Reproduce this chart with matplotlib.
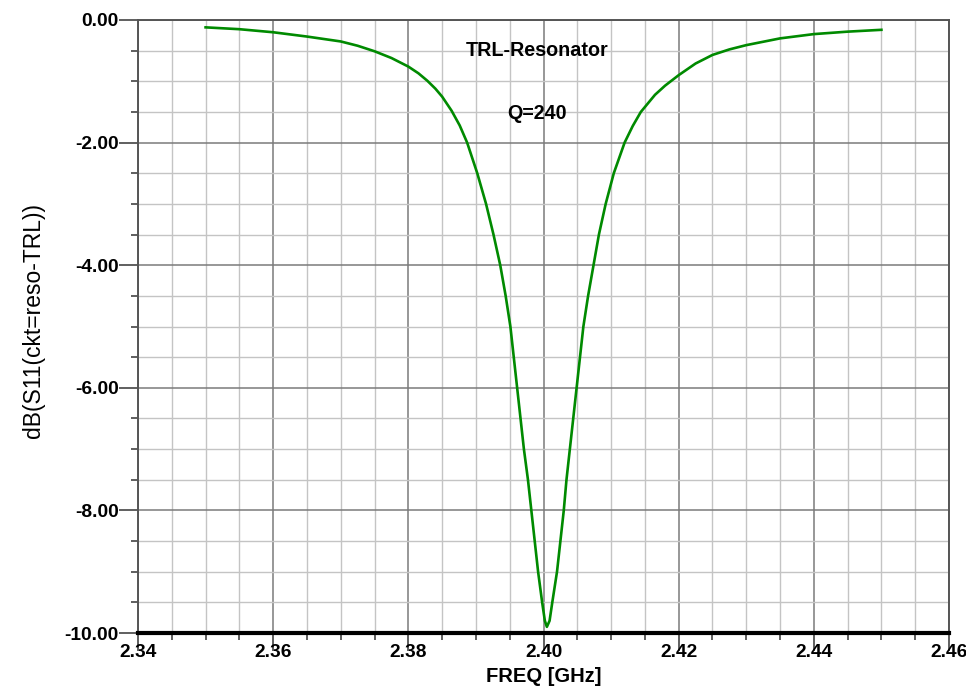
import matplotlib.pyplot as plt
import numpy as np
from matplotlib.ticker import MultipleLocator, FormatStrFormatter

plt.rcParams['font.family'] = ['Liberation Sans', 'DejaVu Sans']

# S11 of the TRL resonator
freq_ghz = [2.3500, 2.3550, 2.3600, 2.3650, 2.3700, 2.3725, 2.3750, 2.3775, 2.3800,
            2.3815, 2.3828, 2.3840, 2.3850, 2.3864, 2.3876, 2.3887, 2.3902, 2.3915,
            2.3926, 2.3936, 2.3944, 2.3951, 2.3956, 2.3961, 2.3966, 2.3971, 2.3977,
            2.3982, 2.3987, 2.3992, 2.3998, 2.4002, 2.4005, 2.4009, 2.4013, 2.4020,
            2.4025, 2.4030, 2.4034, 2.4039, 2.4044, 2.4049, 2.4054, 2.4059, 2.4066,
            2.4074, 2.4082, 2.4092, 2.4104, 2.4120, 2.4132, 2.4144, 2.4165, 2.4180,
            2.4200, 2.4225, 2.4250, 2.4275, 2.4300, 2.4350, 2.4400, 2.4450, 2.4500]
s11_db = [-0.12, -0.15, -0.20, -0.27, -0.35, -0.42, -0.51, -0.62, -0.76,
          -0.87, -0.99, -1.12, -1.25, -1.48, -1.72, -2.00, -2.50, -3.00,
          -3.50, -4.00, -4.50, -5.00, -5.50, -6.00, -6.50, -7.00, -7.50,
          -8.00, -8.50, -9.00, -9.50, -9.80, -9.90, -9.80, -9.50, -9.00,
          -8.50, -8.00, -7.50, -7.00, -6.50, -6.00, -5.50, -5.00, -4.50,
          -4.00, -3.50, -3.00, -2.50, -2.00, -1.73, -1.50, -1.22, -1.07,
          -0.90, -0.71, -0.57, -0.48, -0.41, -0.30, -0.23, -0.19, -0.16]

fig = plt.figure(figsize=(9.66, 6.9), dpi=100)
ax = fig.add_axes([138/966, 1-633/690, (949-138)/966, (633-20)/690])

# grid first, then curve
ax.xaxis.set_major_locator(MultipleLocator(0.02))
ax.xaxis.set_minor_locator(MultipleLocator(0.005))
ax.yaxis.set_major_locator(MultipleLocator(2))
ax.yaxis.set_minor_locator(MultipleLocator(0.5))
ax.grid(which='major', color='#7a7a7a', linewidth=1.1)
ax.grid(which='minor', color='#c4c4c4', linewidth=1.0)
ax.set_axisbelow(True)

ax.plot(freq_ghz, s11_db, color='#008a00', linewidth=1.9, solid_joinstyle='round')

ax.set_xlim(2.34, 2.46)
ax.set_ylim(-10, 0)
ax.xaxis.set_major_formatter(FormatStrFormatter('%.2f'))
ax.yaxis.set_major_formatter(FormatStrFormatter('%.2f'))

for s in ['top', 'right', 'left']:
    ax.spines[s].set_color('#555555')
    ax.spines[s].set_linewidth(1.4)
ax.spines['bottom'].set_color('black')
ax.spines['bottom'].set_linewidth(3)

ax.tick_params(which='major', direction='out', length=14, width=1.2, color='#444444',
               labelsize=13.8, pad=0)
ax.tick_params(which='minor', direction='out', length=5, width=1.2, color='#444444')
ax.tick_params(axis='x', which='major', length=13, pad=-5)
for lab in ax.get_xticklabels() + ax.get_yticklabels():
    lab.set_fontweight('bold')

ax.text(2.3990, -0.50, 'TRL-Resonator', ha='center', va='center',
        fontsize=14.2, fontweight='bold')
ax.text(2.3990, -1.53, 'Q=240', ha='center', va='center',
        fontsize=14.2, fontweight='bold')

ax.set_xlabel('FREQ [GHz]', fontsize=14.5, fontweight='bold', labelpad=4)
fig.text(34/966, 1-320/690, 'dB(S11(ckt=reso-TRL))', rotation=90,
         ha='center', va='center', fontsize=16.5)

fig.savefig('out.png', dpi=100)
